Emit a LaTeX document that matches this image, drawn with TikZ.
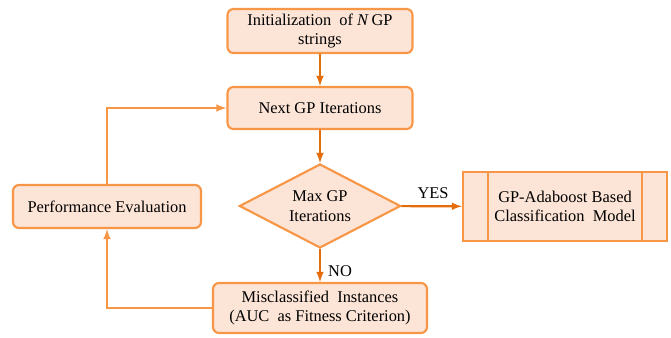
\documentclass[tikz,border=0pt]{standalone}
\usepackage{fontspec}
\setmainfont{Liberation Serif}
\usetikzlibrary{shapes.geometric}
\definecolor{boxfill}{HTML}{FCE4D6}
\definecolor{boxline}{HTML}{F79646}
\definecolor{flowline}{HTML}{E46C0A}
\begin{document}
\begin{tikzpicture}[x=0.75pt,y=-0.75pt]
    \tikzstyle{every node}=[font=\fontsize{12.3}{14.5}\selectfont]
    \tikzstyle{stage}=[draw=boxline,fill=boxfill,line width=1.6pt,rounded corners=4.5pt,
        align=center,inner sep=0pt]
    \tikzstyle{flow}=[->,>=latex,draw=flowline,line width=1.6pt]
    \tikzstyle{loop}=[->,>=latex,draw=boxline,line width=1.6pt]
    \useasboundingbox (0,0) rectangle (671,338);
    %% Main column
    \node at (320,31) [stage,minimum width=138.75pt,minimum height=33pt] (INIT)
        {Initialization\ \ of \textit{N}\,GP\\strings};
    \node at (320,108) [stage,minimum width=138.75pt,minimum height=31.5pt] (NEXT)
        {Next GP Iterations};
    \node at (320,206) [diamond,aspect=2,draw=boxline,fill=boxfill,line width=1.6pt,align=center,
        inner sep=0pt,minimum width=121pt,minimum height=63pt] (MAX)
        {Max GP\\Iterations};
    \node at (320,308) [stage,minimum width=160.5pt,minimum height=37.5pt] (MISC)
        {Misclassified\ \ Instances\\(AUC\ \ as Fitness Criterion)};
    %% Side boxes
    \node at (565,206.5) [stage,rounded corners=0pt,minimum width=153pt,minimum height=51.75pt] (MODEL)
        {GP-Adaboost Based\\Classification\ \ Model};
    \draw[boxline,line width=1.6pt] ([xshift=19.5pt]MODEL.north west) -- ([xshift=19.5pt]MODEL.south west);
    \draw[boxline,line width=1.6pt] ([xshift=-19.5pt]MODEL.north east) -- ([xshift=-19.5pt]MODEL.south east);
    \node at (107,206.5) [stage,minimum width=141pt,minimum height=32.25pt] (PERF)
        {Performance Evaluation};
    %% Labels
    \node at (433,193) (YES) {YES};
    \node at (340,271) (NO) {NO};

    \path
    (INIT) edge [flow] (NEXT)
    (NEXT) edge [flow] (MAX)
    (MAX) edge [flow] (MODEL)
    (MAX) edge [flow] (MISC);
    \draw[loop] (MISC.west) -| (PERF.south);
    \draw[loop] (PERF.north) |- (NEXT.west);
\end{tikzpicture}
\end{document}
